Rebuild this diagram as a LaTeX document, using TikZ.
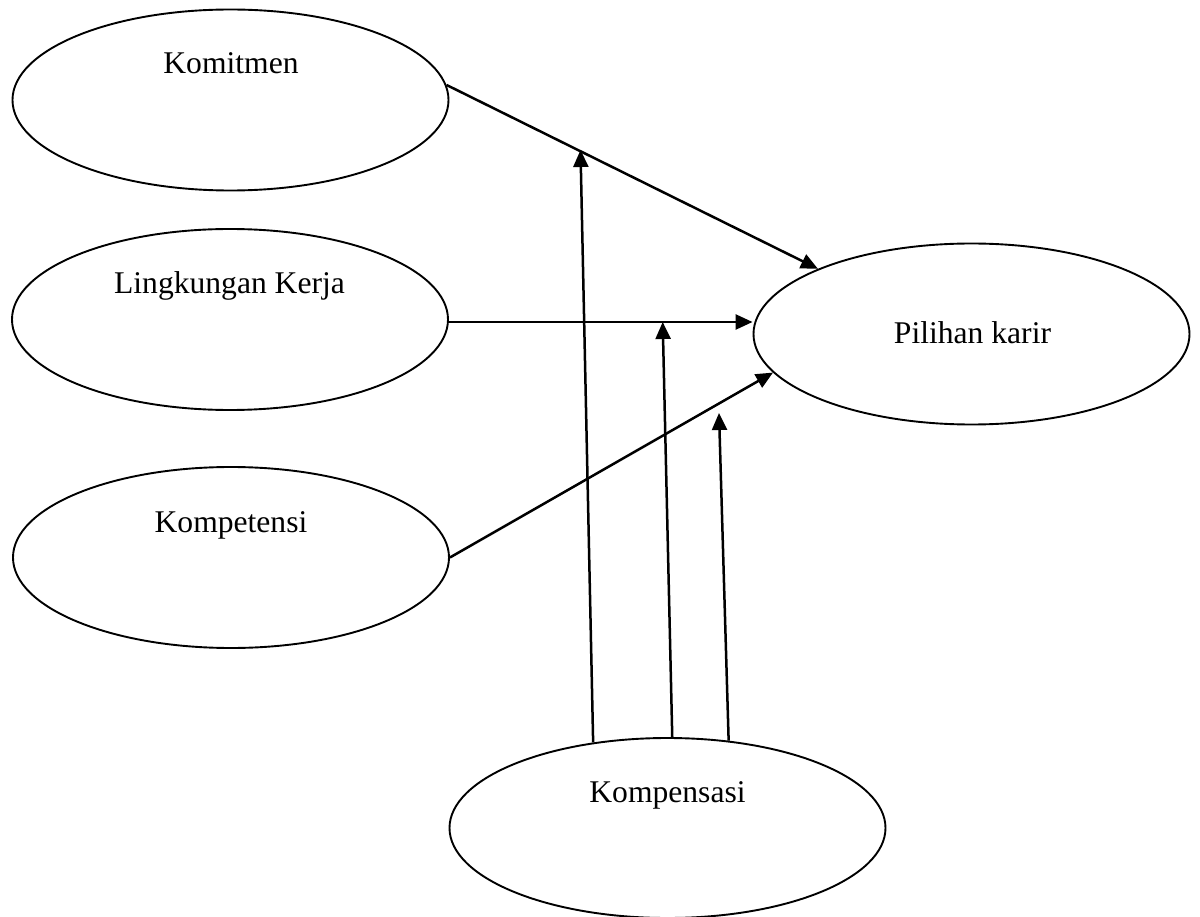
\documentclass[tikz,border=0pt]{standalone}
\usepackage{fontspec}
\setmainfont{Liberation Serif}
\usetikzlibrary{shapes.geometric,arrows.meta}
\tikzset{
  var/.style={ellipse, draw=black, line width=1.9pt, inner sep=0pt, minimum width=436pt, minimum height=181pt},
  lbl/.style={anchor=base, inner sep=0pt},
  arr/.style={line width=2.5pt, -{Triangle[length=17pt,width=15pt]}}
}
\begin{document}
\begin{tikzpicture}[x=1pt,y=-1pt,font=\fontsize{31.6pt}{38pt}\selectfont]
\useasboundingbox (0,0) rectangle (1200,917);
% ellipses
\node[var] (k1) at (230.5,100) {};
\node[var] (k2) at (230,319.5) {};
\node[var] (k3) at (231,557.5) {};
\node[var] (pk) at (971.5,334) {};
\node[var, minimum height=180pt] (km) at (667.5,828) {};
% labels
\node[lbl] (tk1) at (231,74) {Komitmen};
\node[lbl] (tk2) at (229.5,294) {Lingkungan Kerja};
\node[lbl] (tk3) at (231,532) {Kompetensi};
\node[lbl] (tpk) at (972.5,344) {Pilihan karir};
\node[lbl] (tkm) at (667.5,802) {Kompensasi};
% direct arrows
\draw[arr] (k1.4) -- (pk.157);
\coordinate (l2) at ([yshift=-2.5pt]k2.east);
\draw[arr] (l2) -- (l2 -| pk.west);
\draw[arr] (k3.east) -- (pk.191);
% moderating arrows
\coordinate (t1) at (580.5,150);
\coordinate (t2) at (662.7,322);
\coordinate (t3) at (719,413);
\draw[arr] (km.131) -- (t1);
\draw[arr] (km.87) -- (t2);
\draw[arr] (km.55) -- (t3);
\end{tikzpicture}
\end{document}
